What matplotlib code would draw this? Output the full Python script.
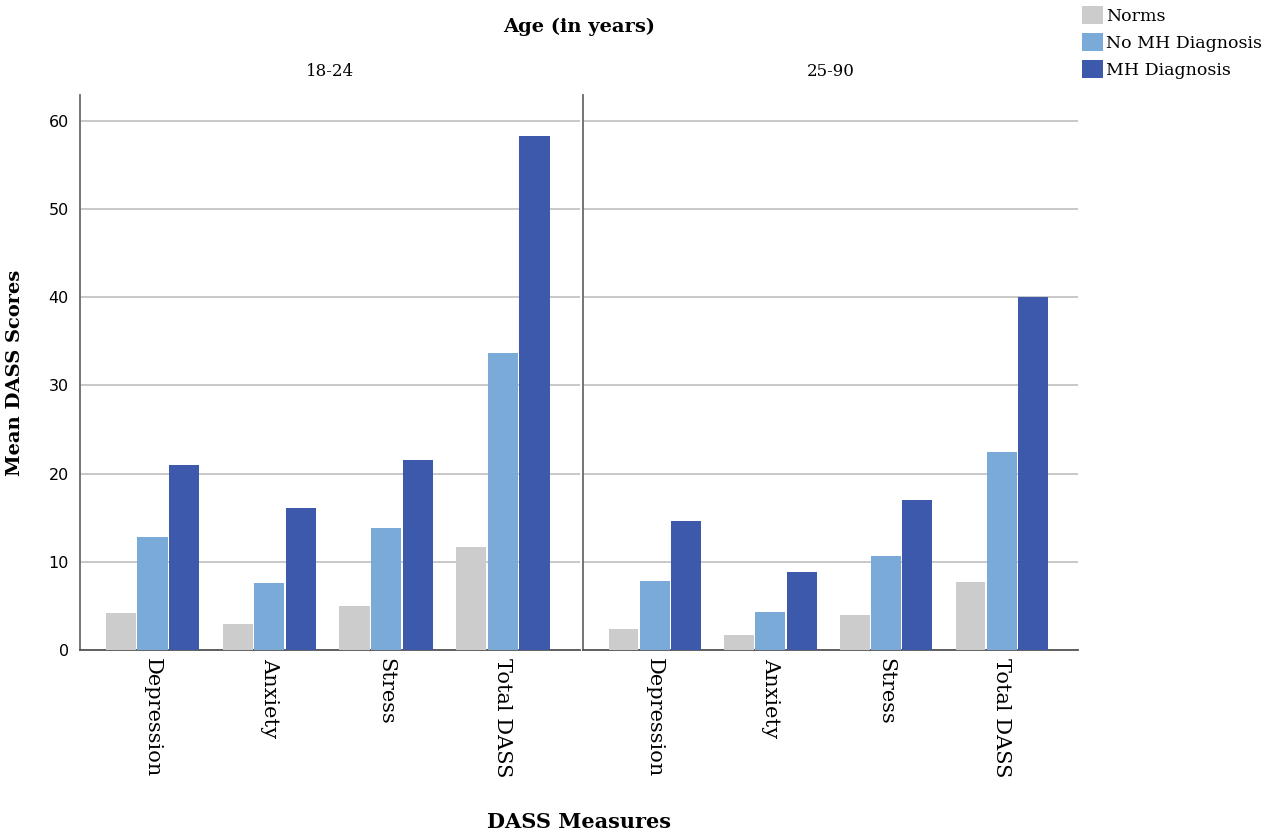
import matplotlib.pyplot as plt
import numpy as np

measures = ['Depression', 'Anxiety', 'Stress', 'Total DASS']
ages = ['18-24', '25-90']
groups = ['Norms', 'No MH Diagnosis', 'MH Diagnosis']
colors = ['#cccccc', '#7aaad8', '#3d59ab']

# mean scores per age panel, [norms, no MH, MH]
young = [[4.2, 2.9, 5.0, 11.7],
         [12.8, 7.6, 13.8, 33.7],
         [21.0, 16.1, 21.5, 58.2]]
older = [[2.4, 1.7, 4.0, 7.7],
         [7.8, 4.3, 10.7, 22.4],
         [14.6, 8.8, 17.0, 40.0]]

serif = 'DejaVu Serif'
fig = plt.figure(figsize=(12.8, 8.36), dpi=100)
bot, top = 1 - 650/836, 1 - 95/836
ax1 = fig.add_axes([80/1280, bot, 500/1280, top - bot])
ax2 = fig.add_axes([583/1280, bot, 495/1280, top - bot])

x = np.arange(len(measures))
w = 0.258
step = 0.27
for ax, data, age in [(ax1, young, ages[0]), (ax2, older, ages[1])]:
    for i in range(3):
        ax.bar(x + (i - 1) * step, data[i], w, color=colors[i], label=groups[i], zorder=3)
    ax.set_xlim(-0.62, 3.66)
    ax.set_ylim(0, 62.9)
    ax.set_yticks([0, 10, 20, 30, 40, 50, 60])
    ax.yaxis.grid(True, color='#c4c4c4', linewidth=1.3, zorder=0)
    ax.set_xticks(x)
    ax.set_xticklabels(measures, rotation=270, fontsize=15, family=serif, va='top', ha='center')
    ax.tick_params(length=0, pad=6)
    for s in ['top', 'right']:
        ax.spines[s].set_visible(False)
    ax.spines['left'].set_color('#6a6a6a')
    ax.spines['left'].set_linewidth(1.3)
    ax.spines['bottom'].set_color('#555555')
    ax.spines['bottom'].set_linewidth(1.3)
    ax.set_title(age, fontsize=12, family=serif, pad=14)

ax1.tick_params(axis='y', labelsize=11.5, pad=8)
ax2.tick_params(axis='y', labelleft=False)
ax1.set_ylabel('Mean DASS Scores', fontsize=14, family=serif, fontweight='bold', labelpad=18)

fig.text(579/1280, 1 - 27/836, 'Age (in years)', fontsize=14, family=serif,
         fontweight='bold', ha='center', va='center')
fig.text(579/1280, 1 - 822/836, 'DASS Measures', fontsize=15, family=serif,
         fontweight='bold', ha='center', va='center')

handles, labels = ax1.get_legend_handles_labels()
fig.legend(handles, labels, loc='upper left', bbox_to_anchor=(1080/1280, 1 - 4/836),
           frameon=False, prop={'family': serif, 'size': 12.5},
           handlelength=1.25, handleheight=1.25, handletextpad=0.15,
           labelspacing=0.47, borderpad=0.1, borderaxespad=0)

plt.savefig('out.png', dpi=100)
